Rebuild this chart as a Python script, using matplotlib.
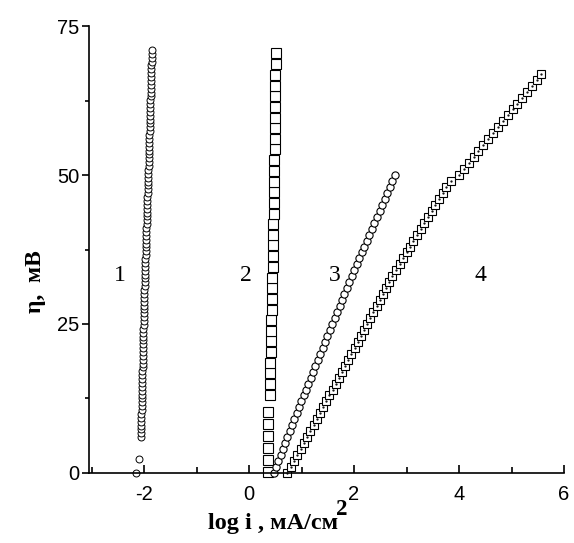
import matplotlib
matplotlib.use("Agg")
import matplotlib.pyplot as plt
from matplotlib.ticker import MultipleLocator

plt.rcParams['axes.unicode_minus'] = False

# ---- data ----
# curve 1: circles
y1 = [0.0, 2.3,
      6.0, 6.65, 7.3, 7.95, 8.6, 9.25, 9.9, 10.55, 11.2, 11.85, 12.5, 13.15, 13.8, 14.45,
      15.1, 15.75, 16.4, 17.05, 17.7, 18.35, 19.0, 19.65, 20.3, 20.95, 21.6, 22.25, 22.9,
      23.55, 24.2, 24.85, 25.5, 26.15, 26.8, 27.45, 28.1, 28.75, 29.4, 30.05, 30.7, 31.35,
      32.0, 32.65, 33.3, 33.95, 34.6, 35.25, 35.9, 36.55, 37.2, 37.85, 38.5, 39.15, 39.8,
      40.45, 41.1, 41.75, 42.4, 43.05, 43.7, 44.35, 45.0, 45.65, 46.3, 46.95, 47.6, 48.25,
      48.9, 49.55, 50.2, 50.85, 51.5, 52.15, 52.8, 53.45, 54.1, 54.75, 55.4, 56.05, 56.7,
      57.35, 58.0, 58.65, 59.3, 59.95, 60.6, 61.25, 61.9, 62.55, 63.2, 63.85, 64.5, 65.15,
      65.8, 66.45, 67.1, 67.75, 68.4, 69.05, 69.7, 70.35, 71.0]
x1 = [-2.15, -2.09,
      -2.060, -2.058, -2.057, -2.055, -2.053, -2.052, -2.050, -2.048, -2.046, -2.045, -2.043,
      -2.041, -2.040, -2.038, -2.036, -2.035, -2.033, -2.031, -2.030, -2.028, -2.026, -2.025,
      -2.023, -2.021, -2.019, -2.018, -2.016, -2.014, -2.013, -2.011, -2.009, -2.008, -2.006,
      -2.004, -2.002, -2.001, -1.998, -1.996, -1.994, -1.991, -1.989, -1.986, -1.984, -1.982,
      -1.979, -1.977, -1.974, -1.972, -1.969, -1.967, -1.964, -1.962, -1.959, -1.957, -1.955,
      -1.952, -1.950, -1.947, -1.945, -1.942, -1.940, -1.937, -1.935, -1.932, -1.930, -1.928,
      -1.925, -1.923, -1.919, -1.917, -1.915, -1.913, -1.911, -1.909, -1.906, -1.904, -1.902,
      -1.900, -1.898, -1.896, -1.894, -1.891, -1.889, -1.887, -1.885, -1.883, -1.881, -1.879,
      -1.876, -1.874, -1.872, -1.870, -1.868, -1.866, -1.863, -1.861, -1.859, -1.857, -1.855,
      -1.853, -1.851]

# curve 2: large squares
y2 = [0.2, 2.2, 4.2, 6.2, 8.2, 10.2,
      13.1, 14.9, 16.7, 18.5, 20.3, 22.1, 23.8, 25.6, 27.4, 29.2, 31.0, 32.8, 34.6, 36.4,
      38.2, 40.0, 41.7, 43.5, 45.3, 47.1, 48.9, 50.7, 52.5, 54.3, 56.1, 57.9, 59.6, 61.4,
      63.2, 65.0, 66.8, 68.6, 70.4]
x2 = [0.37, 0.37, 0.37, 0.37, 0.37, 0.37,
      0.39, 0.39, 0.40, 0.40, 0.41, 0.41, 0.42, 0.42, 0.43, 0.43, 0.44, 0.44, 0.45, 0.45,
      0.46, 0.46, 0.46, 0.47, 0.47, 0.47, 0.48, 0.48, 0.48, 0.49, 0.49, 0.49, 0.49, 0.50,
      0.50, 0.50, 0.50, 0.51, 0.51]

# curve 3: circles
y3 = [0, 1, 2, 3, 4, 5, 6, 7, 8, 9, 10, 11, 12, 13, 14, 15, 16, 17, 18, 19, 20, 21, 22, 23,
      24, 25, 26, 27, 28, 29, 30, 31, 32, 33, 34, 35, 36, 37, 38, 39, 40, 41, 42, 43, 44, 45,
      46, 47, 48, 49, 50]
x3 = [0.470, 0.513, 0.556, 0.600, 0.643, 0.686, 0.730, 0.774, 0.818, 0.861, 0.906, 0.950,
      0.994, 1.039, 1.084, 1.129, 1.174, 1.219, 1.264, 1.309, 1.355, 1.401, 1.446, 1.492,
      1.538, 1.584, 1.631, 1.677, 1.723, 1.770, 1.817, 1.864, 1.911, 1.958, 2.005, 2.053,
      2.100, 2.148, 2.196, 2.244, 2.292, 2.340, 2.388, 2.437, 2.485, 2.534, 2.583, 2.632,
      2.681, 2.730, 2.780]

# curve 4: small squares with a dot
y4 = [0, 1, 2, 3, 4, 5, 6, 7, 8, 9, 10, 11, 12, 13, 14, 15, 16, 17, 18, 19, 20, 21, 22, 23,
      24, 25, 26, 27, 28, 29, 30, 31, 32, 33, 34, 35, 36, 37, 38, 39, 40, 41, 42, 43, 44, 45,
      46, 47, 48, 49, 50, 51, 52, 53, 54, 55, 56, 57, 58, 59, 60, 61, 62, 63, 64, 65, 66, 67]
x4 = [0.72, 0.79, 0.85, 0.92, 0.98, 1.05, 1.11, 1.17, 1.23, 1.29, 1.35, 1.41, 1.47, 1.53,
      1.59, 1.65, 1.71, 1.77, 1.83, 1.89, 1.95, 2.01, 2.07, 2.13, 2.19, 2.25, 2.31, 2.37,
      2.43, 2.49, 2.55, 2.61, 2.67, 2.73, 2.80, 2.87, 2.93, 3.00, 3.07, 3.13, 3.20, 3.27,
      3.34, 3.41, 3.48, 3.55, 3.62, 3.69, 3.76, 3.84, 4.00, 4.09, 4.19, 4.28, 4.37, 4.46,
      4.56, 4.65, 4.74, 4.83, 4.93, 5.02, 5.11, 5.20, 5.30, 5.39, 5.48, 5.57]

curve_labels = ["1", "2", "3", "4"]
label_x = [-2.46, -0.06, 1.64, 4.40]
label_y = [33.2, 33.2, 33.2, 33.2]

xticks = [-2, 0, 2, 4, 6]
yticks = [0, 25, 50, 75]

# ---- figure ----
fig = plt.figure(figsize=(5.74, 5.43), dpi=100)
ax = fig.add_axes([0.155, 0.129, 0.8276, 0.823])

ax.plot(x1, y1, linestyle='none', marker='o', markersize=5.0, markerfacecolor='white',
        markeredgecolor='black', markeredgewidth=0.7, clip_on=False)
ax.plot(x2, y2, linestyle='none', marker='s', markersize=7.2, markerfacecolor='white',
        markeredgecolor='black', markeredgewidth=0.8, clip_on=False)
ax.plot(x3, y3, linestyle='none', marker='o', markersize=5.2, markerfacecolor='white',
        markeredgecolor='black', markeredgewidth=0.8, clip_on=False)
ax.plot(x4, y4, linestyle='none', marker='s', markersize=5.2, markerfacecolor='white',
        markeredgecolor='black', markeredgewidth=0.8, clip_on=False)
ax.plot(x4, y4, linestyle='none', marker='.', markersize=1.2, color='black', clip_on=False)

for t, lx, ly in zip(curve_labels, label_x, label_y):
    ax.text(lx, ly, t, fontsize=17, family='Liberation Serif', ha='center', va='center')

ax.set_xlim(-3.05, 6)
ax.set_ylim(0, 75)
ax.set_xticks(xticks)
ax.set_yticks(yticks)
ax.xaxis.set_minor_locator(MultipleLocator(1))
ax.yaxis.set_minor_locator(MultipleLocator(12.5))

for s in ['top', 'right']:
    ax.spines[s].set_visible(False)
for s in ['left', 'bottom']:
    ax.spines[s].set_linewidth(1.2)

ax.tick_params(axis='x', which='major', direction='in', length=6, width=1.2, pad=9,
               labelsize=14.5, labelfontfamily='Liberation Sans')
ax.tick_params(axis='x', which='minor', direction='in', length=4, width=1.2)
ax.tick_params(axis='y', which='major', direction='out', length=5, width=1.2, pad=2,
               labelsize=14.5, labelfontfamily='Liberation Sans')
ax.tick_params(axis='y', which='minor', direction='out', length=3, width=1.2)

xl = fig.text(0.475, 0.035, "log i , мА/см", fontsize=17.5, fontweight='bold',
              family='Liberation Serif', ha='center', va='center')
fig.canvas.draw()
bb = xl.get_window_extent()
fig.text(bb.x1 / fig.bbox.width - 0.003, 0.062, "2", fontsize=16.5, fontweight='bold',
         family='Liberation Serif', ha='left', va='center')
fig.text(0.062, 0.482, "η,  мВ", fontsize=17, fontweight='bold',
         family='Liberation Serif', ha='center', va='center', rotation=90)

fig.savefig("out.png", dpi=100)
